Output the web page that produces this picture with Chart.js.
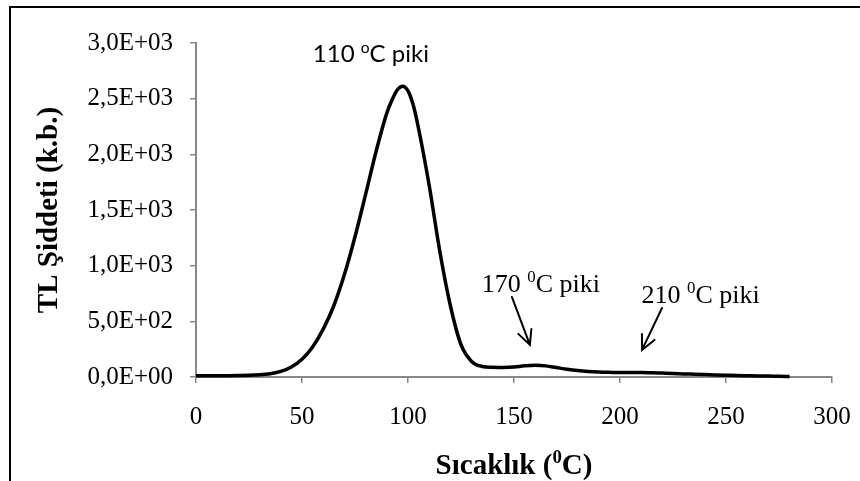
<!DOCTYPE html>
<html>
<head>
<meta charset="utf-8">
<script src="https://cdn.jsdelivr.net/npm/chart.js@4.4.1/dist/chart.umd.min.js"></script>
<style>
  html, body { margin: 0; padding: 0; background: #fff; }
  #wrap { width: 860px; height: 481px; position: relative; }
</style>
</head>
<body>
<div id="wrap"><canvas id="tlChart"></canvas></div>
<script>
// glow curve: temperature (°C) vs TL intensity (a.u.)
const temps = [0, 5, 10, 15, 20, 25, 30, 35, 40, 45, 50, 55, 60, 65, 70, 75, 80, 85, 90, 92.5, 95, 97.5,
  100, 102.5, 105, 110, 115, 120, 125, 130, 135, 140, 145, 150, 155, 160, 165, 170, 175, 180, 185, 190, 195,
  200, 205, 210, 215, 220, 225, 230, 235, 240, 245, 250, 255, 260, 265, 270, 275, 280]
const intensity = [12, 12, 12, 12, 13, 15, 20, 30, 50, 90, 160, 270, 430, 640, 920, 1260, 1640, 2030, 2370, 2490, 2580, 2612,
  2570, 2440, 2230, 1720, 1130, 640, 290, 140, 95, 88, 86, 90, 100, 105, 100, 85, 70, 58, 50, 45, 42,
  40, 40, 40, 38, 35, 32, 28, 25, 22, 19, 16, 13, 11, 9, 8, 6, 5]

// peak annotations (label in data units, arrows from -> to)
const peakText = [['110 ', 'o', 'C piki'], ['170 ', '0', 'C piki'], ['210 ', '0', 'C piki']]
const peakFont = ['Lato', 'Liberation Serif', 'Liberation Serif']
const peakSize = [24, 26, 26]
const peakAt = [[82.5, 2830], [162.7, 764], [238, 665]]
const arrowFrom = [[149, 719], [219.8, 620]]
const arrowTo = [[157.5, 288], [210.4, 243]]

const xTitle = ['Sıcaklık (', '0', 'C)']
const yTitle = 'TL Şiddeti (k.b.)'

// 3,0E+03 style labels
const sciLabel = (v) => {
    if (v === 0) return '0,0E+00'
    const e = Math.floor(Math.log10(v))
    const m = (v / Math.pow(10, e)).toFixed(1).replace('.', ',')
    return m + 'E' + (e < 0 ? '-' : '+') + String(Math.abs(e)).padStart(2, '0')
}

// text with a raised middle part
const drawRich = (ctx, parts, x, y, family, size, weight) => {
    const sup = size * 0.65
    const f1 = `${weight} ${size}px "${family}"`
    const f2 = `${weight} ${sup}px "${family}"`
    ctx.font = f1
    const w0 = ctx.measureText(parts[0]).width
    const w2 = ctx.measureText(parts[2]).width
    ctx.font = f2
    const w1 = ctx.measureText(parts[1]).width
    let cx = x - (w0 + w1 + w2) / 2
    ctx.textAlign = 'left'
    ctx.textBaseline = 'alphabetic'
    ctx.font = f1
    ctx.fillText(parts[0], cx, y)
    cx += w0
    ctx.font = f2
    ctx.fillText(parts[1], cx, y - size * 0.38)
    cx += w1
    ctx.font = f1
    ctx.fillText(parts[2], cx, y)
}

const decor = {
    id: 'decor',
    beforeDraw(chart) {
        const ctx = chart.ctx
        ctx.save()
        ctx.fillStyle = '#fff'
        ctx.fillRect(0, 0, chart.width, chart.height)
        // frame edges
        ctx.strokeStyle = '#000'
        ctx.lineWidth = 2
        ctx.beginPath()
        ctx.moveTo(10, chart.height)
        ctx.lineTo(10, 7)
        ctx.lineTo(chart.width, 7)
        ctx.stroke()
        ctx.restore()
    },
    afterDraw(chart) {
        const ctx = chart.ctx
        const xs = chart.scales.x
        const ys = chart.scales.y
        const area = chart.chartArea
        ctx.save()
        ctx.fillStyle = '#000'

        // axis titles
        drawRich(ctx, xTitle, (area.left + area.right) / 2, 474, 'Liberation Serif', 29, 'bold')
        ctx.translate(50, (area.top + area.bottom) / 2)
        ctx.rotate(-Math.PI / 2)
        ctx.font = 'bold 29px "Liberation Serif"'
        ctx.textAlign = 'center'
        ctx.textBaseline = 'middle'
        ctx.fillText(yTitle, 0, 0)
        ctx.setTransform(1, 0, 0, 1, 0, 0)

        // peak labels
        peakText.forEach((parts, i) => {
            const px = xs.getPixelForValue(peakAt[i][0])
            const py = ys.getPixelForValue(peakAt[i][1])
            drawRich(ctx, parts, px, py, peakFont[i], peakSize[i], 'normal')
        })

        // arrows
        ctx.strokeStyle = '#000'
        ctx.lineWidth = 2
        ctx.lineCap = 'round'
        arrowFrom.forEach((from, i) => {
            const x0 = xs.getPixelForValue(from[0]), y0 = ys.getPixelForValue(from[1])
            const x1 = xs.getPixelForValue(arrowTo[i][0]), y1 = ys.getPixelForValue(arrowTo[i][1])
            const a = Math.atan2(y1 - y0, x1 - x0)
            const head = 16
            ctx.beginPath()
            ctx.moveTo(x0, y0)
            ctx.lineTo(x1, y1)
            ctx.moveTo(x1 - head * Math.cos(a - 0.45), y1 - head * Math.sin(a - 0.45))
            ctx.lineTo(x1, y1)
            ctx.lineTo(x1 - head * Math.cos(a + 0.45), y1 - head * Math.sin(a + 0.45))
            ctx.stroke()
        })
        ctx.restore()
    }
}

const tickFont = { family: 'Liberation Serif', size: 25 }

new Chart(document.getElementById('tlChart'), {
    type: 'line',
    data: {
        datasets: [{
            data: temps.map((t, i) => ({ x: t, y: intensity[i] })),
            borderColor: '#000',
            borderWidth: 3.5,
            pointRadius: 0,
            fill: false,
            cubicInterpolationMode: 'monotone',
            clip: false
        }]
    },
    options: {
        responsive: true,
        maintainAspectRatio: false,
        animation: false,
        layout: { padding: { left: 0, top: 43, right: 28, bottom: 0 } },
        plugins: {
            legend: { display: false },
            tooltip: { enabled: false }
        },
        scales: {
            x: {
                type: 'linear',
                min: 0,
                max: 300,
                ticks: { stepSize: 50, color: '#000', font: tickFont, padding: 19, maxRotation: 0 },
                grid: { drawOnChartArea: false, tickLength: 6, color: '#888', lineWidth: 1.5 },
                border: { color: '#888', width: 2 },
                afterFit(s) {
                    s.height = 104
                    s.paddingLeft = 0
                    s.paddingRight = 0
                }
            },
            y: {
                min: 0,
                max: 3000,
                ticks: { stepSize: 500, color: '#000', font: tickFont, padding: 17, callback: (v) => sciLabel(v) },
                grid: { drawOnChartArea: false, tickLength: 6, color: '#888', lineWidth: 1.5 },
                border: { color: '#888', width: 2 },
                afterFit(s) {
                    s.width = 196
                    s.paddingTop = 0
                    s.paddingBottom = 0
                }
            }
        }
    },
    plugins: [decor]
})
</script>
</body>
</html>
